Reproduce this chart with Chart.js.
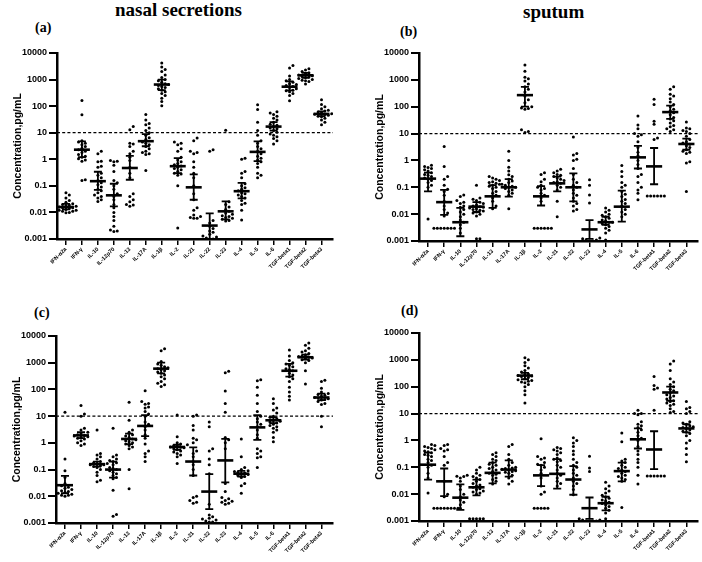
<!DOCTYPE html>
<html>
<head>
<meta charset="utf-8">
<script src="https://cdn.jsdelivr.net/npm/chart.js@4.4.1/dist/chart.umd.min.js"></script>
<style>
  body { margin: 0; background: #fff; width: 702px; height: 562px; position: relative; overflow: hidden; }
  .title { position: absolute; font-family: "Liberation Serif", serif; font-weight: bold; font-size: 19px; color: #000; white-space: nowrap; }
  .tag { position: absolute; font-family: "Liberation Serif", serif; font-weight: bold; font-size: 14px; color: #000; }
  canvas { position: absolute; }
</style>
</head>
<body>
<div class="title" style="left:115px; top:-1px;">nasal secretions</div>
<div class="title" style="left:523px; top:1px;">sputum</div>
<div class="tag" style="left:35px; top:20px;">(a)</div>
<div class="tag" style="left:400px; top:24px;">(b)</div>
<div class="tag" style="left:34px; top:305px;">(c)</div>
<div class="tag" style="left:401px; top:303px;">(d)</div>
<canvas id="chartA"></canvas>
<canvas id="chartB"></canvas>
<canvas id="chartC"></canvas>
<canvas id="chartD"></canvas>
<script>
var cats = ["IFN-α2a", "IFN-γ", "IL-10", "IL-12p70", "IL-13", "IL-17A", "IL-1β", "IL-2", "IL-21", "IL-22", "IL-23", "IL-4", "IL-5", "IL-6", "TGF-beta1", "TGF-beta2", "TGF-beta3"];
var yTicks = [0.001, 0.01, 0.1, 1, 10, 100, 1000, 10000];
var cutoff = 10;

// (a) nasal secretions
var valsA = [
  [0.055, 0.045, 0.035, 0.028, 0.024, 0.021, 0.02, 0.019, 0.018, 0.017, 0.016, 0.015, 0.015, 0.014, 0.013, 0.012, 0.012, 0.011, 0.011, 0.01, 0.0098],
  [162, 47, 5, 4.5, 4, 3.5, 3, 2.6, 2.3, 2, 1.8, 1.5, 1.3, 1.2, 1.05, 0.95, 0.85, 0.17, 0.16],
  [2, 1.6, 0.85, 0.8, 0.55, 0.5, 0.3, 0.25, 0.2, 0.16, 0.13, 0.11, 0.09, 0.075, 0.065, 0.055, 0.045, 0.04, 0.035, 0.03, 0.026],
  [0.9, 0.85, 0.8, 0.6, 0.35, 0.16, 0.13, 0.1, 0.075, 0.05, 0.04, 0.03, 0.02, 0.015, 0.01, 0.007, 0.005, 0.003, 0.0022, 0.002, 0.0019],
  [17, 13, 4, 3.8, 3, 2, 1.6, 1.2, 0.9, 0.5, 0.3, 0.2, 0.05, 0.04, 0.03, 0.025, 0.02, 0.019, 0.017],
  [48, 30, 22, 20, 15, 12, 10, 8, 6.5, 5.5, 4.5, 4, 3.5, 3, 2.5, 2, 1.8, 1.6, 1.5, 0.38],
  [4200, 3000, 2400, 2000, 1500, 1200, 1000, 900, 800, 700, 650, 600, 550, 500, 450, 400, 350, 300, 250, 200, 150, 104],
  [4.5, 4, 3.5, 2.5, 2, 1.2, 0.95, 0.8, 0.7, 0.62, 0.56, 0.5, 0.45, 0.4, 0.35, 0.3, 0.28, 0.25, 0.1, 0.0026],
  [6.3, 5, 2, 1.8, 1.6, 0.8, 0.5, 0.3, 0.2, 0.1, 0.05, 0.03, 0.015, 0.012, 0.008, 0.007, 0.0065, 0.006, 0.006],
  [2.3, 2, 0.005, 0.004, 0.003, 0.0025, 0.002, 0.0018, 0.0015, 0.0013, 0.0012, 0.0011, 0.001, 0.001],
  [12.5, 0.025, 0.02, 0.016, 0.013, 0.011, 0.0095, 0.0085, 0.0075, 0.007, 0.0065, 0.006, 0.0055, 0.005, 0.0048],
  [1.1, 1, 0.35, 0.3, 0.2, 0.12, 0.1, 0.085, 0.075, 0.065, 0.055, 0.05, 0.045, 0.04, 0.035, 0.028, 0.022, 0.02, 0.012, 0.0052],
  [112, 74, 25, 12, 8, 5, 4, 3, 2.5, 2, 1.6, 1.3, 1.1, 0.95, 0.8, 0.7, 0.5, 0.3, 0.25, 0.2],
  [62, 55, 48, 42, 35, 30, 25, 21, 19, 17, 15, 14, 12, 10.5, 9, 8, 7, 6, 5, 3.8],
  [3400, 2700, 1350, 1000, 900, 800, 700, 650, 600, 550, 500, 450, 400, 380, 350, 300, 250, 160],
  [2550, 2300, 2000, 1800, 1650, 1500, 1400, 1300, 1250, 1200, 1100, 1000, 950, 900, 850, 680],
  [175, 115, 95, 80, 70, 65, 60, 56, 52, 50, 48, 45, 42, 40, 35, 30, 25, 20]
];
var meanA = [0.016, 2.3, 0.15, 0.044, 0.47, 4.8, 650, 0.55, 0.088, 0.0032, 0.011, 0.063, 1.9, 17, 540, 1450, 51];
var loA = [0.013, 1.2, 0.07, 0.017, 0.17, 3.1, 400, 0.3, 0.03, 0.001, 0.0055, 0.034, 0.85, 12, 390, 1150, 42];
var hiA = [0.021, 4.7, 0.34, 0.12, 1.35, 8.8, 1000, 1.1, 0.27, 0.0092, 0.026, 0.13, 4.7, 25, 850, 1800, 64];

// (b) sputum
var valsB = [
  [0.66, 0.6, 0.55, 0.5, 0.45, 0.4, 0.35, 0.3, 0.28, 0.25, 0.22, 0.2, 0.18, 0.15, 0.12, 0.1, 0.0066],
  [3.3, 0.6, 0.25, 0.2, 0.12, 0.085, 0.07, 0.05, 0.03, 0.02, 0.015, 0.011, 0.0085, 0.003, 0.003, 0.003, 0.003, 0.003, 0.003, 0.003],
  [0.052, 0.045, 0.032, 0.028, 0.025, 0.02, 0.018, 0.015, 0.012, 0.01, 0.008, 0.006, 0.005, 0.004, 0.003, 0.002],
  [0.12, 0.04, 0.036, 0.032, 0.028, 0.025, 0.022, 0.02, 0.019, 0.018, 0.017, 0.016, 0.015, 0.014, 0.013, 0.012, 0.011, 0.01, 0.0085, 0.0012, 0.0012],
  [0.25, 0.22, 0.2, 0.18, 0.16, 0.15, 0.14, 0.13, 0.12, 0.11, 0.1, 0.09, 0.07, 0.06, 0.05, 0.04, 0.03, 0.02, 0.016],
  [2.2, 1, 0.56, 0.4, 0.29, 0.25, 0.2, 0.17, 0.15, 0.13, 0.12, 0.11, 0.1, 0.1, 0.09, 0.08, 0.07, 0.06, 0.05, 0.016],
  [3600, 2100, 1250, 1100, 900, 700, 550, 450, 350, 250, 180, 140, 100, 90, 85, 80, 14, 12, 11],
  [0.35, 0.3, 0.2, 0.16, 0.12, 0.1, 0.09, 0.08, 0.06, 0.05, 0.04, 0.03, 0.003, 0.003, 0.003, 0.003, 0.003, 0.003],
  [0.47, 0.4, 0.35, 0.3, 0.28, 0.25, 0.22, 0.2, 0.18, 0.16, 0.15, 0.14, 0.12, 0.1, 0.08, 0.03, 0.008],
  [7.5, 1.8, 1.6, 1.1, 1, 0.5, 0.3, 0.2, 0.15, 0.12, 0.1, 0.08, 0.06, 0.05, 0.04, 0.03, 0.025, 0.02, 0.015, 0.013],
  [0.19, 0.12, 0.052, 0.026, 0.0013, 0.0012, 0.0011, 0.0011, 0.001, 0.001],
  [0.017, 0.014, 0.012, 0.01, 0.009, 0.008, 0.007, 0.006, 0.0055, 0.005, 0.005, 0.0045, 0.004, 0.0035, 0.003, 0.0025, 0.002, 0.0011],
  [0.65, 0.39, 0.25, 0.15, 0.12, 0.1, 0.069, 0.055, 0.045, 0.035, 0.03, 0.025, 0.02, 0.015, 0.012, 0.01, 0.008],
  [45, 21, 15, 10, 9, 8, 5, 3, 2, 1.5, 1, 0.7, 0.5, 0.3, 0.25, 0.15, 0.1, 0.08, 0.06, 0.034],
  [190, 122, 29, 22, 6.9, 6, 0.047, 0.047, 0.047, 0.047, 0.047, 0.047],
  [550, 450, 290, 250, 200, 150, 120, 100, 80, 70, 60, 50, 40, 35, 30, 25, 20, 18, 15, 14, 12],
  [27, 16, 15, 13, 12, 10, 8, 6, 5, 4.5, 4, 3.5, 3, 2.5, 2.2, 2, 1.8, 0.9, 0.8, 0.069]
];
var meanB = [0.21, 0.028, 0.005, 0.019, 0.046, 0.1, 270, 0.046, 0.14, 0.1, 0.0027, 0.005, 0.019, 1.3, 0.6, 63, 4.1];
var loB = [0.07, 0.0094, 0.0015, 0.012, 0.017, 0.045, 100, 0.021, 0.07, 0.03, 0.0012, 0.004, 0.0053, 0.5, 0.13, 35, 2.5];
var hiB = [0.35, 0.08, 0.017, 0.028, 0.12, 0.2, 550, 0.11, 0.25, 0.33, 0.006, 0.008, 0.075, 3.5, 2.9, 110, 6.5];

// (c) nasal secretions
var valsC = [
  [14, 0.25, 0.09, 0.05, 0.03, 0.025, 0.022, 0.02, 0.018, 0.016, 0.015, 0.014, 0.013, 0.012, 0.011, 0.011, 0.01],
  [25, 12, 10, 3.5, 3, 2.5, 2.2, 2, 1.9, 1.8, 1.7, 1.6, 1.5, 1.4, 1.2, 1, 0.9, 0.8],
  [3, 0.4, 0.35, 0.3, 0.25, 0.2, 0.18, 0.17, 0.16, 0.15, 0.15, 0.14, 0.13, 0.12, 0.1, 0.08, 0.06, 0.04, 0.035],
  [3.5, 0.35, 0.3, 0.25, 0.22, 0.2, 0.18, 0.15, 0.12, 0.11, 0.1, 0.09, 0.08, 0.07, 0.06, 0.05, 0.045, 0.017, 0.0021, 0.0018],
  [33, 7, 3, 2.5, 2, 1.8, 1.6, 1.4, 1.3, 1.2, 1.1, 1, 0.9, 0.8, 0.7, 0.6, 0.1, 0.019],
  [90, 35, 30, 28, 22, 20, 15, 12, 10, 6, 5, 4, 3, 2, 1.5, 0.9, 0.5, 0.4, 0.3, 0.2],
  [3300, 2800, 1100, 900, 800, 700, 650, 600, 550, 500, 450, 400, 350, 300, 250, 200, 170, 150, 130],
  [11, 1.7, 1, 0.9, 0.85, 0.8, 0.75, 0.7, 0.68, 0.65, 0.6, 0.55, 0.5, 0.45, 0.4, 0.35, 0.3, 0.17],
  [11, 10, 4.5, 3, 1.5, 1.3, 1, 0.5, 0.4, 0.3, 0.2, 0.15, 0.1, 0.06, 0.01, 0.009, 0.007, 0.006, 0.0055],
  [6, 4, 0.6, 0.5, 0.25, 0.15, 0.07, 0.005, 0.002, 0.0017, 0.0015, 0.0014, 0.0013, 0.0012, 0.0011, 0.0011],
  [480, 420, 88, 30, 14, 1.6, 1.3, 1, 0.6, 0.03, 0.015, 0.009, 0.008, 0.007, 0.0065, 0.006, 0.0055, 0.005],
  [1.4, 0.3, 0.12, 0.1, 0.09, 0.085, 0.08, 0.075, 0.07, 0.065, 0.06, 0.055, 0.05, 0.03, 0.025, 0.013],
  [230, 210, 120, 60, 30, 15, 10, 8, 6, 5, 4, 3, 2, 1.5, 0.6, 0.5, 0.4, 0.3, 0.28, 0.12],
  [45, 30, 20, 17, 13, 10, 9, 8, 7, 6.5, 6, 5.5, 5, 4.5, 4, 3.5, 3, 2.5, 1.6, 1.1],
  [3000, 1800, 1200, 1000, 900, 800, 700, 600, 550, 500, 400, 350, 300, 250, 200, 120, 80, 55, 40],
  [5500, 4500, 3500, 2800, 2500, 2200, 2000, 1800, 1700, 1600, 1500, 1400, 1300, 1200, 1000, 500, 160],
  [220, 200, 110, 80, 70, 65, 60, 55, 50, 48, 45, 42, 40, 35, 30, 27, 10, 4]
];
var meanC = [0.026, 1.9, 0.16, 0.1, 1.4, 4.3, 600, 0.7, 0.2, 0.015, 0.22, 0.07, 3.8, 7, 500, 1600, 50];
var loC = [0.013, 1.5, 0.13, 0.05, 0.9, 1.8, 400, 0.55, 0.06, 0.0033, 0.033, 0.055, 1.3, 5.5, 300, 1300, 40];
var hiC = [0.058, 2.5, 0.2, 0.2, 2.2, 11, 1000, 0.85, 0.68, 0.068, 1.4, 0.09, 11, 9, 900, 2000, 70];

// (d) sputum
var valsD = [
  [0.7, 0.65, 0.6, 0.55, 0.5, 0.45, 0.4, 0.38, 0.35, 0.3, 0.28, 0.25, 0.2, 0.18, 0.15, 0.12, 0.1, 0.06, 0.04, 0.011],
  [0.7, 0.65, 0.5, 0.45, 0.4, 0.25, 0.15, 0.12, 0.03, 0.01, 0.008, 0.003, 0.003, 0.003, 0.003, 0.003, 0.003, 0.003, 0.003],
  [0.05, 0.046, 0.045, 0.04, 0.03, 0.02, 0.015, 0.01, 0.008, 0.006, 0.005, 0.004, 0.003],
  [0.1, 0.08, 0.06, 0.05, 0.045, 0.04, 0.035, 0.03, 0.025, 0.022, 0.02, 0.018, 0.016, 0.015, 0.013, 0.012, 0.011, 0.01, 0.0012, 0.0012, 0.0012, 0.0012, 0.0012],
  [0.35, 0.3, 0.25, 0.2, 0.18, 0.15, 0.13, 0.12, 0.1, 0.09, 0.08, 0.07, 0.06, 0.055, 0.05, 0.04, 0.035, 0.03, 0.024],
  [0.7, 0.6, 0.3, 0.2, 0.15, 0.12, 0.1, 0.095, 0.09, 0.085, 0.08, 0.075, 0.07, 0.065, 0.06, 0.05, 0.04, 0.03, 0.024],
  [1200, 1000, 800, 600, 500, 400, 350, 300, 280, 260, 250, 240, 220, 200, 180, 170, 160, 150, 140, 120, 100, 70, 50, 25],
  [1.15, 0.25, 0.22, 0.2, 0.15, 0.13, 0.12, 0.1, 0.08, 0.06, 0.04, 0.02, 0.012, 0.01, 0.003, 0.003, 0.003, 0.003, 0.003],
  [0.55, 0.5, 0.45, 0.4, 0.35, 0.3, 0.22, 0.2, 0.18, 0.16, 0.12, 0.1, 0.08, 0.06, 0.05, 0.04, 0.03, 0.025, 0.02],
  [1.25, 1, 0.8, 0.6, 0.4, 0.3, 0.2, 0.15, 0.12, 0.1, 0.08, 0.06, 0.05, 0.04, 0.03, 0.025, 0.02, 0.015, 0.0095],
  [0.26, 0.095, 0.07, 0.0012, 0.0011, 0.0011, 0.001, 0.001, 0.001, 0.001],
  [0.028, 0.02, 0.016, 0.013, 0.011, 0.009, 0.008, 0.007, 0.006, 0.0055, 0.005, 0.0045, 0.004, 0.0035, 0.003, 0.0025, 0.002, 0.0012],
  [1.9, 0.9, 0.2, 0.17, 0.15, 0.12, 0.1, 0.09, 0.08, 0.07, 0.06, 0.05, 0.045, 0.04, 0.035, 0.03, 0.0032],
  [13.4, 10, 10, 9, 5, 4, 3.5, 3, 2.5, 2, 1.5, 1.2, 1, 0.6, 0.4, 0.3, 0.2, 0.15, 0.1, 0.05, 0.024],
  [240, 110, 90, 81, 13.4, 0.047, 0.047, 0.047, 0.047, 0.047, 0.047],
  [900, 700, 400, 200, 150, 120, 100, 80, 70, 60, 50, 45, 40, 35, 30, 28, 25, 22, 20, 15, 12, 11],
  [28, 17, 15, 12, 10, 5, 4.5, 4, 3.5, 3.2, 3, 2.8, 2.5, 2.2, 2, 1.8, 1.5, 1, 0.8, 0.5, 0.3, 0.16]
];
var meanD = [0.125, 0.03, 0.0074, 0.018, 0.062, 0.082, 260, 0.05, 0.057, 0.035, 0.003, 0.0046, 0.072, 1.1, 0.46, 61, 2.8];
var loD = [0.035, 0.0085, 0.0026, 0.009, 0.025, 0.045, 190, 0.02, 0.016, 0.0095, 0.0012, 0.0025, 0.03, 0.5, 0.085, 30, 2];
var hiD = [0.35, 0.09, 0.023, 0.035, 0.15, 0.18, 330, 0.12, 0.2, 0.11, 0.0075, 0.008, 0.15, 2.8, 2.2, 100, 4];

// spread points sideways so that dots with close values do not overlap
function swarm(vals, ci) {
  var placed = [], out = [];
  var order = vals.map(function(v, i) { return i; }).sort(function(a, b) { return vals[a] - vals[b]; });
  order.forEach(function(i) {
    var py = Math.log10(vals[i]) * 26.7;
    for (var k = 0; k < 14; k++) {
      var off = (k % 2 ? 1 : -1) * Math.ceil(k / 2) * 3.4;
      var free = placed.every(function(p) {
        var dx = p.px - off, dy = p.py - py;
        return dx * dx + dy * dy >= 3.2 * 3.2;
      });
      if (free || k == 13) {
        placed.push({px: off, py: py});
        out.push({x: ci + off / 16, y: vals[i]});
        break;
      }
    }
  });
  return out;
}

// mean line, error bar and the dashed cutoff line
var statBars = {
  id: 'statBars',
  afterDatasetsDraw: function(chart) {
    var o = chart.options.plugins.statBars;
    var xs = chart.scales.x, ys = chart.scales.y, ctx = chart.ctx, area = chart.chartArea;
    ctx.save();
    ctx.strokeStyle = '#000';
    var yc = ys.getPixelForValue(cutoff);
    ctx.setLineDash([3, 2.2]);
    ctx.lineWidth = 1.3;
    ctx.beginPath(); ctx.moveTo(area.left, yc); ctx.lineTo(area.right, yc); ctx.stroke();
    ctx.setLineDash([]);
    o.mean.forEach(function(m, i) {
      var cx = xs.getPixelForValue(i);
      var hw = xs.getPixelForValue(i + 0.5) - cx;
      var cw = xs.getPixelForValue(i + 0.25) - cx;
      var ym = ys.getPixelForValue(m), yl = ys.getPixelForValue(o.lo[i]), yh = ys.getPixelForValue(o.hi[i]);
      ctx.lineWidth = 1.8;
      ctx.beginPath();
      ctx.moveTo(cx, yl); ctx.lineTo(cx, yh);
      ctx.moveTo(cx - cw, yl); ctx.lineTo(cx + cw, yl);
      ctx.moveTo(cx - cw, yh); ctx.lineTo(cx + cw, yh);
      ctx.stroke();
      ctx.lineWidth = 2.6;
      ctx.beginPath(); ctx.moveTo(cx - hw, ym); ctx.lineTo(cx + hw, ym); ctx.stroke();
    });
    ctx.restore();
  }
};

function makeChart(id, box, vals, mean, lo, hi) {
  var el = document.getElementById(id);
  el.style.left = box.left + 'px';
  el.style.top = box.top + 'px';
  el.width = box.width;
  el.height = box.height;
  var pts = [];
  vals.forEach(function(g, ci) { pts = pts.concat(swarm(g, ci)); });
  return new Chart(el, {
    type: 'scatter',
    data: { datasets: [{ data: pts, backgroundColor: '#000', borderWidth: 0, pointRadius: 1.5 }] },
    options: {
      responsive: false,
      animation: false,
      events: [],
      layout: { padding: { top: 8, right: 4, left: 0, bottom: 0 } },
      plugins: {
        legend: { display: false },
        tooltip: { enabled: false },
        statBars: { mean: mean, lo: lo, hi: hi }
      },
      scales: {
        x: {
          type: 'linear', min: -0.56, max: 16.72,
          afterBuildTicks: function(s) { s.ticks = cats.map(function(c, i) { return {value: i}; }); },
          afterFit: function(s) { s.height = 38; },
          ticks: {
            autoSkip: false, maxRotation: 45, minRotation: 45, padding: 1, color: '#000',
            font: { family: 'Liberation Sans', weight: 'bold', size: 5.6 },
            callback: function(v) { return cats[v]; }
          },
          grid: { drawOnChartArea: false, drawTicks: true, tickLength: 6, color: '#000', lineWidth: 1.5 },
          border: { color: '#000', width: 2.5 }
        },
        y: {
          type: 'logarithmic', min: 0.001, max: 10000,
          afterBuildTicks: function(s) { s.ticks = yTicks.map(function(v) { return {value: v}; }); },
          afterFit: function(s) { s.width = 57; },
          ticks: {
            padding: 2, color: '#000',
            font: { family: 'Liberation Sans', weight: 'bold', size: 9 },
            callback: function(v) { return String(v); }
          },
          grid: { drawOnChartArea: false, drawTicks: true, tickLength: 8, color: '#000', lineWidth: 2 },
          border: { color: '#000', width: 2.5 },
          title: {
            display: true, text: 'Concentration,pg/mL', color: '#000',
            font: { family: 'Liberation Sans', weight: 'bold', size: 10.5 },
            padding: { top: 12, bottom: 0 }
          }
        }
      }
    },
    plugins: [statBars]
  });
}

makeChart('chartA', {left: 0, top: 45, width: 337, height: 232}, valsA, meanA, loA, hiA);
makeChart('chartB', {left: 362, top: 45, width: 340, height: 234}, valsB, meanB, loB, hiB);
makeChart('chartC', {left: -1, top: 328, width: 338, height: 233}, valsC, meanC, loC, hiC);
makeChart('chartD', {left: 362, top: 325, width: 340, height: 234}, valsD, meanD, loD, hiD);
</script>
</body>
</html>
